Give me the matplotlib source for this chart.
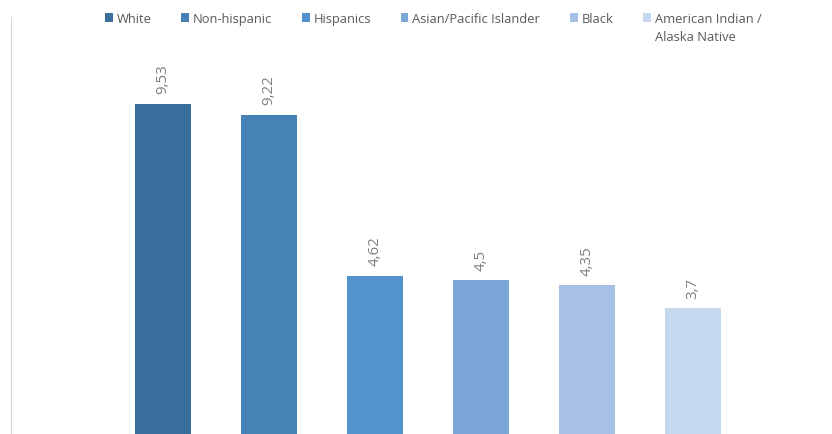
import matplotlib
matplotlib.use("Agg")
import matplotlib.pyplot as plt
from matplotlib.patches import Patch

groups = ["White", "Non-hispanic", "Hispanics", "Asian/Pacific Islander", "Black",
          "American Indian /\nAlaska Native"]
values = [9.53, 9.22, 4.62, 4.5, 4.35, 3.7]
value_labels = ["9,53", "9,22", "4,62", "4,5", "4,35", "3,7"]
colors = ["#3A6E9C", "#4682B6", "#5293CC", "#7AA7D8", "#A6C1E5", "#C4D8EE"]

plt.rcParams['font.family'] = ['Open Sans', 'DejaVu Sans']

W, H = 832, 435
fig = plt.figure(figsize=(W / 100, H / 100), dpi=100)

# plot area in pixels: left 11, top 18, bottom 439 (just below the image edge)
left_px, right_px, top_px, bottom_px = 11, 832, 18, 439
ax = fig.add_axes([left_px / W, (H - bottom_px) / H,
                   (right_px - left_px) / W, (bottom_px - top_px) / H])

x = list(range(len(values)))
ax.bar(x, values, width=56 / 106, color=colors)

# first bar centre at 163 px, 106 px between centres
ax.set_xlim((left_px - 163) / 106, (right_px - 163) / 106)
ax.set_ylim(0, 12)

for xi, v, lab in zip(x, values, value_labels):
    ax.annotate(lab, (xi, v), xytext=(0, 7.5), textcoords="offset points",
                rotation=90, ha="center", va="bottom", fontsize=10.8, color="#7F7F7F")

for s in ["top", "right", "bottom"]:
    ax.spines[s].set_visible(False)
ax.spines["left"].set_color("#D9D9D9")
ax.set_xticks([])
ax.set_yticks([])

# legend: only the first line of each name, the wrapped part is added below
first_lines = [g.split("\n")[0] for g in groups]
handles = [Patch(facecolor=c, edgecolor="none") for c in colors]
leg = fig.legend(handles, first_lines, loc="upper left", bbox_to_anchor=(105 / W, 1 - 13 / H),
                 ncol=6, frameon=False, fontsize=9.3, labelcolor="#595959",
                 handlelength=0.6, handleheight=0.6, handletextpad=0.3,
                 columnspacing=2.3, borderaxespad=0, borderpad=0)

fig.canvas.draw()
inv = fig.transFigure.inverted()
for txt, g in zip(leg.get_texts(), groups):
    rest = g.split("\n")[1:]
    if rest:
        bb = txt.get_window_extent()
        x0, y0 = inv.transform((bb.x0, bb.y0))
        fig.text(x0, y0 - 5 / H, "\n".join(rest), ha="left", va="top",
                 fontsize=9.3, color="#595959")

fig.savefig("out.png", dpi=100)
